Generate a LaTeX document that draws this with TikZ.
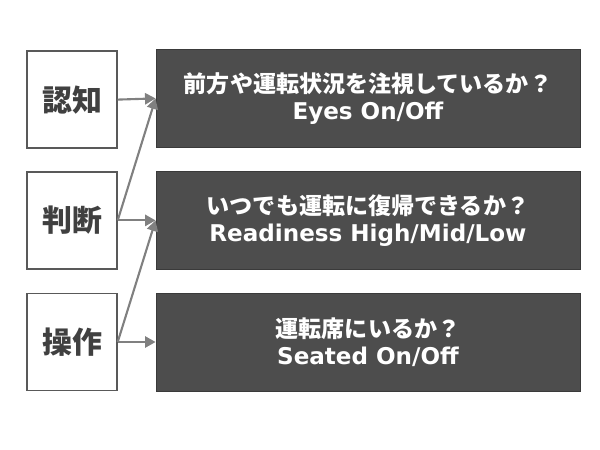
\documentclass[tikz,border=0pt]{standalone}
\usepackage{fontspec}
\setmainfont{Noto Sans CJK JP}
\newfontfamily\latinfont{DejaVu Sans}
\usepackage{tikz}
\usetikzlibrary{arrows.meta}
\definecolor{boxgray}{HTML}{4D4D4D}
\definecolor{boxline}{HTML}{3A3A3A}
\definecolor{labelgray}{HTML}{404040}
\definecolor{framegray}{HTML}{595959}
\definecolor{arrowgray}{HTML}{808080}
\newcommand{\entext}[1]{{\fontsize{16.4}{19}\latinfont\bfseries #1}}

\begin{document}
\begin{tikzpicture}[x=1cm,y=1cm,
  stage/.style={draw=framegray,line width=1pt,fill=white,minimum width=2.25cm,minimum height=2.425cm,inner sep=0pt,
    font=\fontsize{21.3}{24}\selectfont\bfseries,text=labelgray},
  check/.style={draw=boxline,line width=0.6pt,fill=boxgray,minimum width=10.6cm,minimum height=2.45cm,inner sep=0pt,
    font=\fontsize{16.4}{19}\selectfont\bfseries,text=white,align=center},
  link/.style={draw=arrowgray,line width=1.5pt,-{Triangle[length=7.5pt,width=8pt]}}]
\useasboundingbox (0,0) rectangle (15,-11.25);
% left column
\node[stage] (ninchi) at (1.8,-2.49) {認知};
\node[stage] (handan) at (1.8,-5.51) {判断};
\node[stage] (sousa) at (1.8,-8.55) {操作};
% right column
\node[check] (eyes) at (9.2,-2.46) {前方や運転状況を注視しているか？\\\entext{Eyes On/Off}};
\node[check] (ready) at (9.2,-5.51) {いつでも運転に復帰できるか？\\\entext{Readiness High/Mid/Low}};
\node[check] (seated) at (9.2,-8.55) {運転席にいるか？\\\entext{Seated On/Off}};
% arrows
\draw[link] (ninchi.east) -- (eyes.west);
\draw[link] (handan.east) -- (eyes.west);
\draw[link] (handan.east) -- (ready.west);
\draw[link] (sousa.east) -- (ready.west);
\draw[link] (sousa.east) -- (seated.west);
\end{tikzpicture}
\end{document}
